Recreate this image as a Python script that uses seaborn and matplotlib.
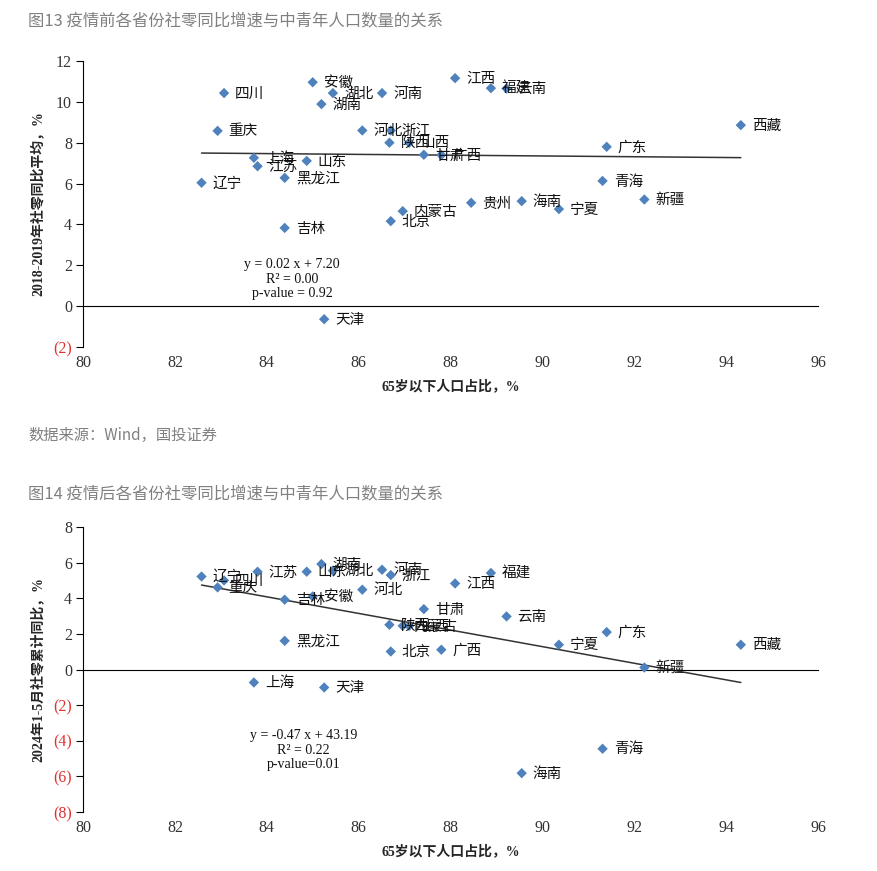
import numpy as np
import pandas as pd
import matplotlib
matplotlib.use("Agg")
import matplotlib.pyplot as plt
import seaborn as sns

provinces = ['四川', '安徽', '湖北', '湖南', '河南', '江西', '福建', '云南', '重庆', '河北',
             '浙江', '陕西', '山西', '甘肃', '广西', '上海', '江苏', '山东', '黑龙江', '辽宁',
             '贵州', '海南', '内蒙古', '北京', '吉林', '西藏', '广东', '青海', '新疆', '宁夏', '天津']
pop_share = [83.07, 85.00, 85.44, 85.19, 86.51, 88.10, 88.88, 89.22, 82.93, 86.08,
             86.70, 86.67, 87.10, 87.42, 87.80, 83.72, 83.80, 84.87, 84.39, 82.58,
             88.45, 89.55, 86.96, 86.70, 84.39, 94.32, 91.40, 91.31, 92.22, 90.36, 85.25]
retail_pre = [10.43, 10.96, 10.43, 9.89, 10.43, 11.16, 10.67, 10.65, 8.58, 8.60,
              8.60, 8.00, 8.00, 7.41, 7.40, 7.26, 6.85, 7.11, 6.28, 6.04,
              5.06, 5.14, 4.65, 4.16, 3.83, 8.86, 7.80, 6.13, 5.22, 4.75, -0.64]
retail_post = [5.00, 4.10, 5.55, 5.92, 5.60, 4.83, 5.42, 2.98, 4.61, 4.48,
               5.30, 2.51, 2.45, 3.39, 1.11, -0.73, 5.49, 5.49, 1.61, 5.22,
               np.nan, -5.82, 2.45, 1.01, 3.92, 1.39, 2.10, -4.45, 0.11, 1.39, -1.01]

title1 = '图13 疫情前各省份社零同比增速与中青年人口数量的关系'
title2 = '图14 疫情后各省份社零同比增速与中青年人口数量的关系'
source = '数据来源：Wind，国投证券'
xlabel = '65岁以下人口占比，%'
ylabel1 = '2018-2019年社零同比平均，%'
ylabel2 = '2024年1-5月社零累计同比，%'
eq1 = ['y = 0.02 x + 7.20', 'R² = 0.00', 'p-value = 0.92']
eq2 = ['y = -0.47 x + 43.19', 'R² = 0.22', 'p-value=0.01']
xticks = [80, 82, 84, 86, 88, 90, 92, 94, 96]
yticks1 = [-2, 0, 2, 4, 6, 8, 10, 12]
yticks2 = [-8, -6, -4, -2, 0, 2, 4, 6, 8]

sns.set_style('white')
SERIF = ['Liberation Serif', 'Noto Sans CJK SC']
CJK = ['Noto Sans CJK SC', 'DejaVu Sans']
plt.rcParams['font.family'] = CJK

df = pd.DataFrame({'prov': provinces, 'x': pop_share, 'pre': retail_pre, 'post': retail_post})

W, H = 877, 871
fig = plt.figure(figsize=(W / 100, H / 100), dpi=100)

def make_ax(top_px, bottom_px):
    left, right = 83, 818
    return fig.add_axes([left / W, 1 - bottom_px / H, (right - left) / W, (bottom_px - top_px) / H])

def fmt(v):
    return f'({abs(v)})' if v < 0 else f'{v}'

def draw(ax, col, yticks, ylab, eq, eq_pos):
    d = df.dropna(subset=[col])
    sns.regplot(data=d, x='x', y=col, ax=ax, scatter=False, ci=None,
                line_kws=dict(color='#333333', lw=1.1))
    sns.scatterplot(data=d, x='x', y=col, ax=ax, marker='D', s=28,
                    color='#4F81BD', edgecolor='none', zorder=3)
    for _, r in d.iterrows():
        ax.annotate(r['prov'], (r['x'], r[col]), xytext=(8, -0.5), textcoords='offset points',
                    ha='left', va='center', fontsize=10.5, family=CJK, color='#111111', zorder=4)
    ax.set_xlim(80, 96)
    ax.set_ylim(yticks[0], yticks[-1])
    ax.set_yticks(yticks)
    ax.set_yticklabels([fmt(t) for t in yticks], family=SERIF, fontsize=11.5)
    for lab, t in zip(ax.get_yticklabels(), yticks):
        lab.set_color('#e03030' if t < 0 else '#333333')
    ax.set_xticks(xticks)
    ax.spines['top'].set_visible(False)
    ax.spines['right'].set_visible(False)
    ax.spines['left'].set_color('black')
    ax.spines['bottom'].set_color('black')
    ax.spines['bottom'].set_position(('data', 0))
    ax.tick_params(axis='x', direction='out', length=4, labelbottom=False, color='#333333')
    ax.tick_params(axis='y', direction='out', length=5, pad=3, color='black', left=True)
    sec = ax.secondary_xaxis('bottom')
    sec.set_xticks(xticks)
    sec.set_xticklabels([str(t) for t in xticks], family=SERIF, fontsize=11.5, color='#333333')
    sec.spines['bottom'].set_visible(False)
    sec.tick_params(length=0, pad=6)
    sec.set_xlabel(xlabel, family=SERIF, fontsize=10, fontweight='bold', labelpad=6)
    ax.set_xlabel('')
    ax.set_ylabel(ylab, family=SERIF, fontsize=10, fontweight='bold', labelpad=6)
    ax.text(eq_pos[0], eq_pos[1], '\n'.join(eq), ha='center', va='top', family=SERIF,
            fontsize=10, color='#111111', linespacing=1.15)
    ax.grid(False)

ax1 = make_ax(61, 347)
draw(ax1, 'pre', yticks1, ylabel1, eq1, (84.55, 2.35))
ax2 = make_ax(527, 812)
draw(ax2, 'post', yticks2, ylabel2, eq2, (84.8, -3.35))

fig.text(28 / W, 1 - 21 / H, title1, ha='left', va='center', fontsize=11.8, color='#808080', family=CJK)
fig.text(28 / W, 1 - 435 / H, source, ha='left', va='center', fontsize=11, color='#808080', family=CJK)
fig.text(28 / W, 1 - 494 / H, title2, ha='left', va='center', fontsize=11.8, color='#808080', family=CJK)

fig.savefig('out.png', dpi=100, facecolor='white')
